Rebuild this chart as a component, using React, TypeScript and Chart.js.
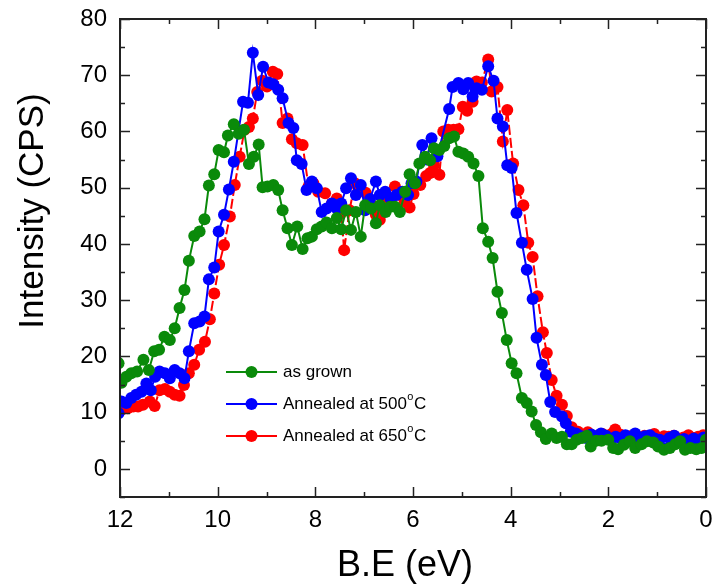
import React, { useEffect, useRef } from "react";
import { Chart, registerables } from "chart.js";

Chart.register(...registerables);

// ---------- data ----------
const xTicks = [12, 10, 8, 6, 4, 2, 0];
const yTicks = [0, 10, 20, 30, 40, 50, 60, 70, 80];
const xTitle = "B.E (eV)";
const yTitle = "Intensity (CPS)";

const seriesLabels = ["as grown", "Annealed at 500°C", "Annealed at 650°C"];
const seriesColors = ["#0a8a0a", "#0000ff", "#ff0000"];

const grownE = [12.03, 11.97, 11.87, 11.77, 11.65, 11.52, 11.41, 11.3, 11.2, 11.09, 10.98, 10.88, 10.78, 10.68, 10.59, 10.48, 10.37, 10.27, 10.18, 10.07, 9.98, 9.87, 9.79, 9.67, 9.57, 9.46, 9.36, 9.26, 9.16, 9.08, 8.98, 8.86, 8.76, 8.67, 8.57, 8.48, 8.37, 8.26, 8.16, 8.07, 7.97, 7.87, 7.77, 7.66, 7.56, 7.47, 7.37, 7.27, 7.17, 7.07, 6.98, 6.86, 6.76, 6.68, 6.56, 6.47, 6.37, 6.27, 6.16, 6.07, 5.96, 5.87, 5.75, 5.65, 5.57, 5.46, 5.36, 5.26, 5.16, 5.07, 4.97, 4.87, 4.76, 4.66, 4.57, 4.46, 4.37, 4.27, 4.18, 4.08, 3.98, 3.88, 3.77, 3.67, 3.57, 3.48, 3.38, 3.28, 3.16, 3.06, 2.95, 2.85, 2.75, 2.65, 2.54, 2.44, 2.36, 2.25, 2.14, 2.0, 1.9, 1.8, 1.68, 1.56, 1.45, 1.32, 1.21, 1.08, 0.98, 0.86, 0.74, 0.63, 0.53, 0.43, 0.32, 0.2, 0.09, 0.0];
const grownI = [18.8, 15.3, 16.4, 17.0, 17.3, 19.4, 17.6, 20.9, 21.2, 23.5, 22.9, 25.0, 28.6, 31.8, 37.0, 41.4, 42.2, 44.4, 50.4, 52.4, 56.7, 56.3, 59.3, 61.3, 59.6, 60.3, 54.2, 55.5, 57.7, 50.1, 50.2, 50.5, 49.6, 46.0, 42.8, 39.8, 43.1, 39.1, 41.0, 41.3, 42.6, 43.1, 43.8, 42.8, 44.6, 42.6, 46.0, 42.5, 45.7, 41.3, 46.9, 46.3, 43.7, 46.9, 45.7, 46.6, 46.6, 45.7, 49.3, 52.4, 50.8, 54.3, 55.5, 54.9, 57.0, 56.7, 57.4, 58.8, 59.1, 56.4, 56.1, 55.5, 54.3, 52.1, 42.8, 40.4, 37.5, 31.5, 27.7, 22.9, 18.8, 17.0, 12.6, 11.7, 10.2, 7.8, 6.5, 5.3, 6.3, 5.5, 5.7, 4.4, 4.4, 5.2, 5.5, 5.9, 4.0, 5.0, 5.0, 5.2, 3.7, 3.5, 4.3, 4.9, 3.7, 4.4, 4.9, 4.7, 4.0, 3.4, 3.7, 4.4, 4.9, 3.4, 3.7, 3.5, 3.7, 5.2];

const a500E = [12.03, 11.97, 11.87, 11.77, 11.67, 11.56, 11.46, 11.37, 11.28, 11.19, 11.08, 10.98, 10.88, 10.78, 10.68, 10.59, 10.48, 10.37, 10.27, 10.18, 10.07, 9.98, 9.87, 9.77, 9.67, 9.48, 9.38, 9.28, 9.17, 9.07, 8.96, 8.86, 8.76, 8.67, 8.55, 8.45, 8.38, 8.28, 8.18, 8.07, 7.97, 7.87, 7.77, 7.66, 7.56, 7.47, 7.37, 7.27, 7.17, 7.07, 6.98, 6.88, 6.76, 6.68, 6.57, 6.46, 6.34, 6.22, 6.1, 6.03, 5.93, 5.81, 5.72, 5.62, 5.5, 5.26, 5.19, 5.07, 4.97, 4.87, 4.78, 4.7, 4.59, 4.46, 4.35, 4.27, 4.16, 4.07, 3.98, 3.88, 3.77, 3.67, 3.55, 3.47, 3.36, 3.28, 3.19, 3.09, 2.95, 2.87, 2.77, 2.66, 2.55, 2.45, 2.35, 2.25, 2.15, 2.05, 1.95, 1.85, 1.75, 1.65, 1.55, 1.45, 1.35, 1.25, 1.15, 1.05, 0.95, 0.85, 0.75, 0.65, 0.55, 0.45, 0.35, 0.25, 0.15, 0.05, 0.0];
const a500I = [9.9, 12.0, 11.7, 12.6, 13.2, 13.7, 15.2, 14.0, 16.4, 17.3, 17.0, 16.1, 17.6, 17.0, 16.1, 20.9, 25.9, 26.2, 27.1, 33.7, 35.8, 42.2, 45.2, 49.7, 54.6, 65.3, 65.1, 74.0, 66.5, 71.5, 68.7, 68.4, 67.4, 65.9, 61.5, 60.6, 54.9, 54.2, 49.6, 51.1, 49.9, 45.7, 46.3, 47.2, 46.3, 47.2, 49.9, 51.7, 48.7, 50.5, 46.0, 48.0, 51.1, 48.7, 49.3, 48.1, 48.7, 49.3, 48.7, 50.8, 51.1, 57.6, 55.0, 58.8, 55.6, 64.0, 67.9, 68.6, 67.5, 68.6, 66.2, 67.7, 67.4, 71.6, 69.0, 62.3, 60.9, 54.0, 53.5, 45.5, 40.2, 35.4, 30.2, 23.3, 18.5, 16.7, 11.9, 10.1, 9.3, 8.1, 6.6, 6.3, 5.8, 5.5, 6.1, 5.6, 6.3, 5.9, 5.2, 5.7, 5.4, 6.0, 5.6, 6.3, 5.3, 5.8, 6.0, 5.4, 5.2, 3.6, 5.5, 5.9, 5.1, 5.3, 4.9, 5.4, 5.0, 5.6, 5.2];

const a650E = [12.02, 11.97, 11.84, 11.73, 11.63, 11.53, 11.39, 11.29, 11.19, 11.08, 10.98, 10.88, 10.78, 10.69, 10.59, 10.48, 10.38, 10.26, 10.16, 10.07, 9.97, 9.87, 9.75, 9.65, 9.55, 9.45, 9.36, 9.28, 9.19, 9.09, 8.99, 8.87, 8.78, 8.67, 8.57, 8.48, 8.38, 8.26, 8.14, 8.04, 7.94, 7.8, 7.66, 7.56, 7.47, 7.41, 7.3, 7.19, 7.09, 6.97, 6.86, 6.76, 6.68, 6.56, 6.46, 6.37, 6.27, 6.17, 6.07, 5.99, 5.85, 5.73, 5.65, 5.57, 5.46, 5.38, 5.28, 5.17, 5.07, 4.98, 4.89, 4.78, 4.7, 4.59, 4.46, 4.39, 4.27, 4.16, 4.07, 3.95, 3.84, 3.74, 3.64, 3.55, 3.45, 3.34, 3.26, 3.16, 3.06, 2.95, 2.85, 2.75, 2.62, 2.52, 2.42, 2.32, 2.22, 2.12, 2.02, 1.92, 1.86, 1.76, 1.66, 1.56, 1.46, 1.36, 1.26, 1.16, 1.06, 0.96, 0.86, 0.76, 0.66, 0.56, 0.46, 0.36, 0.26, 0.16, 0.06];
const a650I = [10.4, 10.5, 10.8, 11.1, 11.1, 11.4, 12.0, 11.2, 14.0, 14.2, 13.7, 13.2, 13.0, 14.9, 17.0, 18.5, 21.2, 22.6, 26.6, 31.2, 36.3, 39.8, 44.9, 50.5, 55.5, 60.3, 60.8, 62.3, 67.0, 69.0, 68.0, 70.6, 70.2, 61.5, 62.3, 58.6, 57.9, 57.6, 50.2, 50.8, 49.3, 49.0, 47.2, 48.1, 45.5, 38.9, 46.0, 50.8, 50.3, 49.1, 47.0, 45.2, 44.3, 48.4, 47.5, 50.2, 48.7, 47.5, 46.5, 48.9, 50.5, 52.1, 52.6, 54.0, 52.3, 60.0, 60.3, 60.3, 60.4, 64.4, 63.7, 65.3, 68.9, 68.7, 72.8, 67.1, 67.9, 58.2, 63.8, 54.3, 49.6, 46.9, 40.2, 37.7, 30.7, 24.3, 20.6, 15.8, 13.0, 11.4, 9.4, 7.4, 6.6, 6.0, 6.5, 5.6, 5.9, 6.2, 5.8, 6.3, 7.0, 6.1, 5.6, 5.8, 6.0, 5.5, 5.9, 5.4, 6.2, 5.5, 5.8, 5.7, 5.9, 5.4, 5.6, 6.0, 5.5, 5.7, 6.0];

const seriesE = [grownE, a500E, a650E];
const seriesI = [grownI, a500I, a650I];

const FONT = "'Liberation Sans', Arial, sans-serif";

const framePlugin = {
  id: "frameTicks",
  afterDatasetsDraw(chart: any) {
    const { ctx, chartArea: ca, scales } = chart;
    const xs = scales.x;
    const ys = scales.y;
    ctx.save();
    ctx.strokeStyle = "#222";
    ctx.lineWidth = 2;
    ctx.strokeRect(ca.left, ca.top, ca.right - ca.left, ca.bottom - ca.top);
    ctx.lineWidth = 1.5;
    const major = 10;
    const minor = 5;
    ctx.beginPath();
    for (let v = 0; v <= 12; v += 1) {
      const px = Math.round(xs.getPixelForValue(v)) + 0.5;
      const len = v % 2 === 0 ? major : minor;
      ctx.moveTo(px, ca.bottom);
      ctx.lineTo(px, ca.bottom - len);
      ctx.moveTo(px, ca.top);
      ctx.lineTo(px, ca.top + len);
    }
    for (let v = -5; v <= 80; v += 5) {
      const py = Math.round(ys.getPixelForValue(v)) + 0.5;
      const len = v % 10 === 0 ? major : minor;
      ctx.moveTo(ca.left, py);
      ctx.lineTo(ca.left + len, py);
      ctx.moveTo(ca.right, py);
      ctx.lineTo(ca.right - len, py);
    }
    ctx.stroke();
    ctx.restore();
  },
};

const titlesPlugin = {
  id: "axisTitles",
  afterDraw(chart: any) {
    const { ctx } = chart;
    ctx.save();
    ctx.fillStyle = "#000";
    ctx.textAlign = "center";
    ctx.textBaseline = "alphabetic";
    ctx.font = `36px ${FONT}`;
    ctx.fillText(xTitle, 405, 576);
    ctx.translate(43, 211);
    ctx.rotate(-Math.PI / 2);
    ctx.font = `35px ${FONT}`;
    ctx.fillText(yTitle, 0, 0);
    ctx.restore();
  },
};

const legendPlugin = {
  id: "insideLegend",
  afterDraw(chart: any) {
    const { ctx } = chart;
    const x0 = 226;
    const x1 = 277;
    const textX = 283;
    const y0 = 372;
    const gap = 32;
    ctx.save();
    chart.data.datasets.forEach((ds: any, i: number) => {
      const y = y0 + i * gap;
      ctx.strokeStyle = ds.borderColor;
      ctx.lineWidth = 2;
      ctx.setLineDash([]);
      ctx.beginPath();
      ctx.moveTo(x0, y);
      ctx.lineTo(x1, y);
      ctx.stroke();
      ctx.fillStyle = ds.borderColor;
      ctx.beginPath();
      ctx.arc((x0 + x1) / 2, y, 6, 0, Math.PI * 2);
      ctx.fill();
      ctx.fillStyle = "#000";
      ctx.textBaseline = "middle";
      ctx.textAlign = "left";
      const label: string = ds.label;
      const parts = label.split("°");
      ctx.font = `17px ${FONT}`;
      let x = textX;
      ctx.fillText(parts[0], x, y);
      x += ctx.measureText(parts[0]).width;
      if (parts.length > 1) {
        ctx.font = `11px ${FONT}`;
        ctx.fillText("o", x + 0.5, y - 7);
        x += ctx.measureText("o").width + 1;
        ctx.font = `17px ${FONT}`;
        ctx.fillText(parts[1], x, y);
      }
    });
    ctx.restore();
  },
};

export default function App() {
  const ref = useRef<HTMLCanvasElement | null>(null);
  useEffect(() => {
    if (!ref.current) return;
    const datasets = seriesLabels.map((label, i) => ({
      label,
      data: seriesE[i].map((e, k) => ({ x: e, y: seriesI[i][k] })),
      borderColor: seriesColors[i],
      backgroundColor: seriesColors[i],
      pointBackgroundColor: seriesColors[i],
      pointBorderWidth: 0,
      pointRadius: 6,
      borderWidth: 2,
      borderDash: i === 2 ? [10, 3] : [],
      tension: 0,
      fill: false,
    }));
    const chart = new Chart(ref.current, {
      type: "line",
      data: { datasets },
      options: {
        responsive: false,
        animation: false,
        devicePixelRatio: 1,
        layout: { padding: { left: 0, right: 6, top: 19, bottom: 0 } },
        plugins: { legend: { display: false }, tooltip: { enabled: false } },
        scales: {
          x: {
            type: "linear",
            reverse: true,
            min: 0,
            max: 12,
            grid: { display: false, drawTicks: false },
            border: { display: false },
            afterBuildTicks: (s: any) => {
              s.ticks = xTicks.map((v) => ({ value: v }));
            },
            afterFit: (s: any) => {
              s.height = 87;
              s.paddingLeft = 0;
              s.paddingRight = 0;
            },
            ticks: {
              padding: 9,
              color: "#000",
              font: { family: FONT, size: 24 },
              maxRotation: 0,
            },
          },
          y: {
            type: "linear",
            min: -5,
            max: 80,
            grid: { display: false, drawTicks: false },
            border: { display: false },
            afterBuildTicks: (s: any) => {
              s.ticks = yTicks.map((v) => ({ value: v }));
            },
            afterFit: (s: any) => {
              s.width = 120;
              s.paddingTop = 0;
              s.paddingBottom = 0;
            },
            ticks: {
              padding: 13,
              color: "#000",
              font: { family: FONT, size: 24 },
            },
          },
        },
      },
      plugins: [framePlugin, titlesPlugin, legendPlugin],
    } as any);
    return () => chart.destroy();
  }, []);
  return (
    <div style={{ position: "absolute", left: 0, top: 0, width: 712, height: 584, background: "#fff" }}>
      <canvas ref={ref} width={712} height={584} style={{ display: "block" }} />
    </div>
  );
}
